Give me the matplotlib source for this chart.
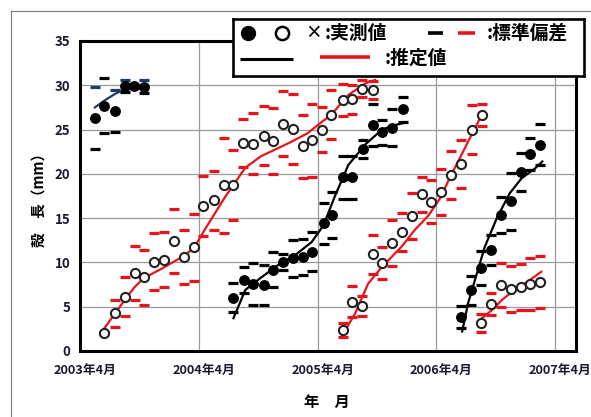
import matplotlib
matplotlib.use("Agg")
import matplotlib.pyplot as plt
import matplotlib.transforms as mtransforms
from matplotlib.lines import Line2D

plt.rcParams["font.family"] = ["Noto Sans CJK JP", "DejaVu Sans"]

NAVY = "#1f3a68"
RED = "#e8141c"
BLACK = "#000000"

# months counted from 2003年4月
x_ticks = [0, 12, 24, 36, 48]
x_labels = ["2003年4月", "2004年4月", "2005年4月", "2006年4月", "2007年4月"]
y_ticks = [0, 5, 10, 15, 20, 25, 30, 35]

# cohort A (filled, navy estimate)
a_month = [1.5, 2.45, 3.5, 4.5, 5.5, 6.5]
a_mean = [26.3, 27.7, 27.1, 29.9, 29.9, 29.85]
a_sd = [3.5, 3.1, 2.4, 0.7, 0.2, 0.7]
a_upper_color = [NAVY, BLACK, NAVY, NAVY, NAVY, NAVY]
a_curve_month = [1.5, 2.5, 3.5, 4.6]
a_curve_val = [27.5, 28.3, 29.0, 29.6]

# cohort B (open, red)
b_month = [2.45, 3.5, 4.5, 5.55, 6.5, 7.5, 8.5, 9.5, 10.5, 11.5, 12.45, 13.5,
           14.5, 15.5, 16.5, 17.5, 18.55, 19.5, 20.5, 21.5, 22.5, 23.45, 24.4,
           25.4, 26.6, 27.5, 28.5, 29.6]
b_mean = [2.07, 4.25, 6.1, 8.8, 8.3, 10.1, 10.3, 12.45, 10.65, 11.7, 16.4, 17.0,
          18.7, 18.7, 23.5, 23.4, 24.3, 23.7, 25.65, 25.05, 23.1, 23.8, 25.0,
          26.7, 28.3, 28.4, 29.6, 29.5]
b_sd = [0.1, 1.5, 2.2, 3.0, 3.05, 3.2, 3.1, 3.6, 3.05, 3.75, 3.4, 3.3,
        5.4, 3.95, 2.75, 3.45, 3.35, 3.75, 3.65, 3.95, 3.6, 4.1, 2.5,
        2.75, 1.8, 1.6, 0.95, 1.0]
b_curve_month = [2.1, 3.0, 3.9, 4.5, 5.5, 6.4, 8.25, 10.6, 11.6, 12.6, 14.6, 16.7,
                 18.3, 20.0, 21.5, 23.0, 24.7, 25.4, 27.1, 28.8, 29.8]
b_curve_val = [2.0, 3.4, 4.8, 5.75, 7.2, 8.2, 9.3, 10.8, 11.8, 13.7, 17.3, 20.7,
               22.0, 22.9, 23.7, 24.6, 26.1, 26.7, 28.9, 30.2, 30.6]

# cohort C (filled, black)
c_month = [15.5, 16.6, 17.5, 18.55, 19.5, 20.5, 21.5, 22.5, 23.45, 24.6, 25.5,
           26.6, 27.5, 28.55, 29.55, 30.5, 31.5, 32.6]
c_mean = [6.0, 8.0, 7.55, 7.45, 9.2, 10.1, 10.45, 10.65, 11.2, 14.4, 15.35,
          19.6, 19.6, 22.8, 25.5, 24.7, 25.2, 27.3]
c_sd = [1.65, 1.5, 2.35, 2.25, 2.0, 0.9, 2.1, 2.05, 2.2, 2.35, 2.6,
        2.4, 2.4, 1.05, 2.4, 1.4, 2.1, 1.4]
c_curve_month = [15.5, 16.7, 18.3, 20.0, 21.7, 23.4, 24.6, 25.7, 27.1, 28.8,
                 30.5, 31.8, 32.9]
c_curve_val = [3.7, 6.9, 8.3, 9.7, 10.8, 12.3, 14.2, 17.35, 21.0, 23.3,
               25.0, 25.5, 25.8]

# cohort D (open, red)
d_month = [26.6, 27.5, 28.5, 29.55, 30.5, 31.5, 32.5, 33.5, 34.5, 35.5, 36.5,
           37.5, 38.5, 39.6, 40.6]
d_mean = [2.37, 5.57, 5.08, 10.95, 9.9, 12.2, 13.4, 15.2, 17.7, 16.85, 18.0,
          19.9, 21.1, 25.0, 26.6]
d_sd = [0.75, 1.77, 1.13, 2.2, 1.8, 2.6, 2.15, 2.6, 2.0, 2.45, 2.6,
        2.7, 2.7, 2.8, 1.25]
d_curve_month = [26.4, 27.8, 29.1, 30.5, 32.5, 33.8, 35.2, 36.4, 37.5, 38.6,
                 39.5, 40.7]
d_curve_val = [1.6, 4.25, 7.6, 9.5, 11.8, 13.65, 15.3, 17.3, 19.9, 22.3,
               24.3, 26.9]

# cohort E (filled, black)
e_month = [38.5, 39.5, 40.5, 41.5, 42.5, 43.5, 44.5, 45.5, 46.5]
e_mean = [3.8, 6.85, 9.4, 11.4, 15.35, 16.9, 20.2, 22.2, 23.3]
e_sd = [1.25, 1.6, 1.9, 1.7, 2.0, 3.25, 2.15, 1.8, 2.3]
e_curve_month = [38.6, 39.2, 40.1, 40.9, 42.1, 43.4, 44.6, 46.0, 46.7]
e_curve_val = [2.2, 5.4, 8.8, 11.8, 15.0, 17.8, 19.5, 20.65, 21.4]

# cohort F (open, red)
f_month = [40.5, 41.5, 42.5, 43.5, 44.5, 45.5, 46.5]
f_mean = [3.2, 5.3, 7.45, 7.0, 7.2, 7.55, 7.8]
f_sd = [1.0, 1.2, 2.5, 2.6, 2.6, 2.9, 2.95]
f_curve_month = [40.6, 41.8, 42.6, 43.9, 45.3, 46.6]
f_curve_val = [3.7, 4.8, 5.75, 6.9, 7.9, 8.95]


def draw_sd(ax, month, mean, sd, upper_colors, lower_color):
    for m, v, s, uc in zip(month, mean, sd, upper_colors):
        ax.plot([m], [v + s], ls="none", marker="_", ms=7, mew=2.3,
                color=uc, zorder=3)
        ax.plot([m], [v - s], ls="none", marker="_", ms=7, mew=2.3,
                color=lower_color, zorder=3)


def draw_points(ax, month, mean, filled):
    if filled:
        ax.plot(month, mean, ls="none", marker="o", ms=6.8, mfc=BLACK,
                mec=BLACK, zorder=4)
    else:
        ax.plot(month, mean, ls="none", marker="o", ms=6.6, mfc="white",
                mec="#222222", mew=1.5, zorder=4)


fig = plt.figure(figsize=(5.91, 4.17), dpi=100)
ax = fig.add_axes([80 / 591, 66 / 417, 496 / 591, 310 / 417])

for cm, cv, col in [(a_curve_month, a_curve_val, NAVY),
                    (b_curve_month, b_curve_val, RED),
                    (c_curve_month, c_curve_val, BLACK),
                    (d_curve_month, d_curve_val, RED),
                    (e_curve_month, e_curve_val, BLACK),
                    (f_curve_month, f_curve_val, RED)]:
    ax.plot(cm, cv, color=col, lw=1.6, zorder=2)

draw_sd(ax, a_month, a_mean, a_sd, a_upper_color, BLACK)
draw_sd(ax, b_month, b_mean, b_sd, [RED] * len(b_month), RED)
draw_sd(ax, c_month, c_mean, c_sd, [BLACK] * len(c_month), BLACK)
draw_sd(ax, d_month, d_mean, d_sd, [RED] * len(d_month), RED)
draw_sd(ax, e_month, e_mean, e_sd, [BLACK] * len(e_month), BLACK)
draw_sd(ax, f_month, f_mean, f_sd, [RED] * len(f_month), RED)

draw_points(ax, a_month, a_mean, True)
draw_points(ax, b_month, b_mean, False)
draw_points(ax, c_month, c_mean, True)
draw_points(ax, d_month, d_mean, False)
draw_points(ax, e_month, e_mean, True)
draw_points(ax, f_month, f_mean, False)

ax.set_xlim(0, 50.1)
ax.set_ylim(0, 35)
ax.set_xticks(x_ticks)
ax.set_xticklabels(x_labels, fontsize=9.2, fontweight="bold", color="#1a1a2a")
ax.set_yticks(y_ticks)
ax.set_yticklabels([str(v) for v in y_ticks], fontsize=9.5, fontweight="bold",
                   color="#1a1a2a")
ax.tick_params(axis="x", length=0, pad=9)
ax.tick_params(axis="y", length=0, pad=7)
shift = mtransforms.ScaledTranslation(0.05, 0, fig.dpi_scale_trans)
for lab in ax.get_xticklabels():
    lab.set_transform(lab.get_transform() + shift)
ax.grid(True, color="#9a9a9a", lw=0.9, zorder=0)
ax.set_axisbelow(True)
for sp in ax.spines.values():
    sp.set_linewidth(2.2)
    sp.set_color(BLACK)

fig.text(39 / 591, 1 - 196 / 417, "殻　長（mm）", rotation=90, ha="center",
         va="center", fontsize=10.5, fontweight="bold")
fig.text(327 / 591, 1 - 402 / 417, "年　月", ha="center", va="center",
         fontsize=11, fontweight="bold")

# legend box
lax = fig.add_axes([233 / 591, (417 - 76) / 417, 351 / 591, 57 / 417], zorder=5)
lax.set_xlim(233, 584)
lax.set_ylim(76, 19)
lax.set_xticks([])
lax.set_yticks([])
lax.set_facecolor("white")
for sp in lax.spines.values():
    sp.set_linewidth(1.9)
lax.plot([248], [33], marker="o", ms=10, mfc=BLACK, mec=BLACK, ls="none")
lax.plot([282], [33], marker="o", ms=9.5, mfc="white", mec=BLACK, mew=1.8,
         ls="none")
lax.text(313, 33, "×", ha="center", va="center", fontsize=12, fontweight="bold")
lax.text(325, 33, ":実測値", ha="left", va="center", fontsize=13.5,
         fontweight="bold")
lax.plot([428, 443], [33, 33], color=BLACK, lw=2.6, solid_capstyle="butt")
lax.plot([458, 475], [33, 33], color=RED, lw=2.6, solid_capstyle="butt")
lax.text(487, 33, ":標準偏差", ha="left", va="center", fontsize=13.5,
         fontweight="bold")
lax.plot([240, 293], [59, 59], color=BLACK, lw=2.2, solid_capstyle="butt")
lax.plot([320, 370], [57, 57], color=RED, lw=2.6, solid_capstyle="butt")
lax.text(385, 58, ":推定値", ha="left", va="center", fontsize=13.5,
         fontweight="bold")

# thin page frame
fig.add_artist(Line2D([10.5 / 591, 10.5 / 591], [0, 1 - 10.5 / 417],
                      transform=fig.transFigure, color="#7a7a7a", lw=0.8))
fig.add_artist(Line2D([10.5 / 591, 1], [1 - 10.5 / 417, 1 - 10.5 / 417],
                      transform=fig.transFigure, color="#7a7a7a", lw=0.8))

fig.savefig("out.png", dpi=100)
